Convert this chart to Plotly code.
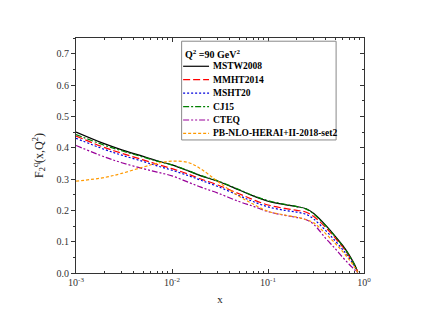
import plotly.graph_objects as go

x_vals = [0.001, 0.002, 0.003, 0.005, 0.007, 0.01, 0.015, 0.02, 0.03, 0.05, 0.07,
          0.1, 0.15, 0.2, 0.25, 0.3, 0.4, 0.5, 0.6, 0.7, 0.8, 0.86]

mstw2008 = [0.450, 0.412, 0.393, 0.372, 0.358, 0.345, 0.325, 0.310, 0.293, 0.265, 0.246,
            0.229, 0.218, 0.212, 0.205, 0.190, 0.152, 0.118, 0.088, 0.058, 0.026, 0.003]
mmht2014 = [0.437, 0.400, 0.382, 0.361, 0.347, 0.333, 0.315, 0.300, 0.281, 0.253, 0.234,
            0.217, 0.206, 0.200, 0.194, 0.180, 0.145, 0.112, 0.083, 0.054, 0.024, 0.003]
msht20 = [0.430, 0.394, 0.376, 0.356, 0.342, 0.328, 0.310, 0.296, 0.276, 0.247, 0.228,
          0.211, 0.200, 0.194, 0.187, 0.172, 0.135, 0.103, 0.075, 0.048, 0.021, 0.002]
cj15 = [0.442, 0.407, 0.390, 0.370, 0.357, 0.345, 0.326, 0.311, 0.294, 0.266, 0.247,
        0.231, 0.219, 0.212, 0.204, 0.188, 0.150, 0.116, 0.086, 0.056, 0.025, 0.003]
cteq = [0.407, 0.370, 0.352, 0.333, 0.322, 0.310, 0.289, 0.274, 0.255, 0.228, 0.213,
        0.196, 0.184, 0.177, 0.170, 0.155, 0.110, 0.078, 0.050, 0.028, 0.010, 0.000]
pb_nlo = [0.293, 0.305, 0.318, 0.338, 0.350, 0.357, 0.352, 0.332, 0.292, 0.245, 0.220,
          0.197, 0.185, 0.178, 0.170, 0.160, 0.125, 0.095, 0.068, 0.043, 0.018, 0.002]

series_names = ["MSTW2008", "MMHT2014", "MSHT20", "CJ15", "CTEQ", "PB-NLO-HERAI+II-2018-set2"]
series_values = [mstw2008, mmht2014, msht20, cj15, cteq, pb_nlo]
series_colors = ["#000000", "#ff0000", "#0000dd", "#008000", "#990099", "#ff9900"]
series_dashes = ["solid", "7px,3px", "2px,2px", "6px,2px,2px,2px",
                 "6px,2px,2px,2px,2px,2px", "3px,2px"]

legend_title = "<b>Q<sup>2</sup> =90 GeV<sup>2</sup></b>"

x_tickvals = [1e-3, 1e-2, 1e-1, 1]
x_ticktext = ["10<sup>-3</sup>", "10<sup>-2</sup>", "10<sup>-1</sup>", "10<sup>0</sup>"]
x_minor = [m * 10 ** e for e in (-3, -2, -1) for m in range(2, 10)]

# page has an 8px body margin, so the figure is offset by (8, 8)
OFF = 8
W, H = 423 - OFF, 327 - OFF
ML, MT = 75.5 - OFF, 38.3 - OFF
PW, PH = 289, 234.4
MR, MB = W - ML - PW, H - MT - PH


def px_x(px):
    return (px - OFF - ML) / PW


def px_y(py):
    return (MT + PH - (py - OFF)) / PH


fig = go.Figure()
for name, ys, color, dash in zip(series_names, series_values, series_colors, series_dashes):
    fig.add_trace(go.Scatter(x=x_vals, y=ys, mode="lines", name=name, showlegend=False,
                             line=dict(color=color, width=1.2, dash=dash, shape="spline")))

font_family = "Liberation Serif"

# hand-built legend box (matches the compact Origin-style legend)
shapes = [dict(type="rect", xref="paper", yref="paper",
               x0=px_x(181.5), x1=px_x(336.5), y0=px_y(140), y1=px_y(41.5),
               line=dict(color="#888", width=1), fillcolor="white", layer="above")]
annotations = [dict(text=legend_title, xref="paper", yref="paper",
                    x=px_x(183), y=px_y(54), xanchor="left", yanchor="middle",
                    showarrow=False, font=dict(family=font_family, size=10, color="#000"))]
row0, step = 66.5, 13.4
for i, (name, color, dash) in enumerate(zip(series_names, series_colors, series_dashes)):
    py = row0 + i * step
    shapes.append(dict(type="line", xref="paper", yref="paper",
                       x0=px_x(183), x1=px_x(209), y0=px_y(py), y1=px_y(py),
                       line=dict(color=color, width=1.2, dash=dash), layer="above"))
    annotations.append(dict(text="<b>%s</b>" % name, xref="paper", yref="paper",
                            x=px_x(210.5), y=px_y(py), xanchor="left", yanchor="middle",
                            showarrow=False,
                            font=dict(family=font_family, size=9.5, color="#000")))

fig.update_layout(
    width=W, height=H,
    margin=dict(l=ML, r=MR, t=MT, b=MB, pad=0),
    paper_bgcolor="white", plot_bgcolor="white",
    font=dict(family=font_family, size=10, color="#222"),
    showlegend=False,
    shapes=shapes, annotations=annotations,
    xaxis=dict(
        type="log", range=[-3, 0], automargin=False,
        tickmode="array", tickvals=x_tickvals, ticktext=x_ticktext,
        ticks="inside", ticklen=4, tickwidth=1, tickcolor="#333",
        minor=dict(tickmode="array", tickvals=x_minor, ticks="inside", ticklen=2, tickcolor="#333"),
        showline=True, linecolor="#333", linewidth=1.2,
        showgrid=False, zeroline=False,
        title=dict(text="x", font=dict(family=font_family, size=11), standoff=8),
        tickfont=dict(family=font_family, size=10, color="#333"),
    ),
    yaxis=dict(
        range=[0, 0.75], dtick=0.1, tick0=0, tickformat=".1f", automargin=False,
        ticks="outside", ticklen=4, tickwidth=1, tickcolor="#333",
        minor=dict(dtick=0.05, ticks="outside", ticklen=2, tickcolor="#333"),
        showline=True, linecolor="#333", linewidth=1.2,
        showgrid=False, zeroline=False,
        title=dict(text="F<sub>2</sub><sup>q</sup>(x,Q<sup>2</sup>)",
                   font=dict(family=font_family, size=12), standoff=10),
        tickfont=dict(family=font_family, size=10, color="#333"),
    ),
    xaxis2=dict(
        type="log", range=[-3, 0], overlaying="x", side="top", anchor="y", automargin=False,
        tickmode="array", tickvals=x_tickvals, showticklabels=False,
        ticks="inside", ticklen=4, tickcolor="#333",
        minor=dict(tickmode="array", tickvals=x_minor, ticks="inside", ticklen=2, tickcolor="#333"),
        showline=True, linecolor="#333", linewidth=1.2, showgrid=False, zeroline=False,
    ),
    yaxis2=dict(
        range=[0, 0.75], dtick=0.1, tick0=0, overlaying="y", side="right", anchor="x",
        automargin=False,
        showticklabels=False, ticks="inside", ticklen=4, tickcolor="#333",
        minor=dict(dtick=0.05, ticks="inside", ticklen=2, tickcolor="#333"),
        showline=True, linecolor="#333", linewidth=1.2, showgrid=False, zeroline=False,
    ),
)
# invisible helper trace so the mirrored axes are drawn
fig.add_trace(go.Scatter(x=[x_vals[0]], y=[mstw2008[0]], xaxis="x2", yaxis="y2",
                         mode="markers", marker=dict(opacity=0), showlegend=False,
                         hoverinfo="skip"))

fig.write_html("out.html")
